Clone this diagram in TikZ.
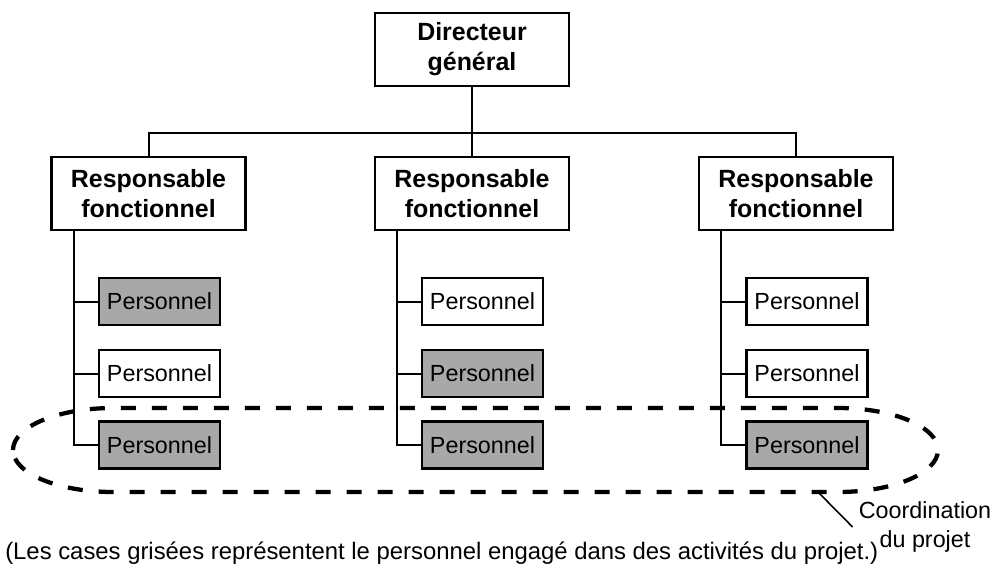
\documentclass[tikz,border=0pt]{standalone}
\usepackage{fontspec}
\setmainfont{Liberation Sans}
\definecolor{projgray}{RGB}{168,168,168}
\begin{document}
\begin{tikzpicture}[x=0.75pt,y=-0.75pt,
  chief/.style={draw, line width=1.8pt, fill=white, minimum width=145.5pt,
    minimum height=54.75pt, inner sep=0pt, align=center,
    font=\fontsize{18.7}{22.5}\selectfont\bfseries},
  staff/.style={draw, line width=1.8pt, fill=white, minimum width=90.75pt,
    minimum height=35.25pt, inner sep=0pt, font=\fontsize{17.5}{21}\selectfont},
  busy/.style={staff, fill=projgray},
  link/.style={line width=1.5pt},
  team/.style={line width=3.2pt, dash pattern=on 11.25pt off 12pt},
  note/.style={align=center, inner sep=0pt, font=\fontsize{17.5}{21.5}\selectfont}]

% canvas
\fill[white] (0,0) rectangle (996,569);
\useasboundingbox (0,0) rectangle (996,569);

% management
\node[chief] (dg)  at (472,49.5)  {Directeur\\général};
\node[chief] (rf1) at (148.5,193.5) {Responsable\\fonctionnel};
\node[chief] (rf2) at (472,193.5)   {Responsable\\fonctionnel};
\node[chief] (rf3) at (796,193.5)   {Responsable\\fonctionnel};
\coordinate (bus) at (472,133);

% staff, three per department (grey = engaged in the project)
\node[busy]  (p11) at (159.5,301.5) {Personnel};
\node[staff] (p12) at (159.5,373.5) {Personnel};
\node[busy]  (p13) at (159.5,445)   {Personnel};
\node[staff] (p21) at (482.5,301.5) {Personnel};
\node[busy]  (p22) at (482.5,373.5) {Personnel};
\node[busy]  (p23) at (482.5,445)   {Personnel};
\node[staff] (p31) at (807,301.5)   {Personnel};
\node[staff] (p32) at (807,373.5)   {Personnel};
\node[busy]  (p33) at (807,445)     {Personnel};

% hierarchy links
\draw[link] (dg.south) -- (rf2.north);
\draw[link] (rf1.north) |- (bus) -| (rf3.north);

\foreach \d in {1,2,3}{
  \draw[link] (p\d3.west) -- ++(-24,0) coordinate (k\d) -- (k\d |- rf\d.south);
  \draw[link] (p\d1.west) -- (p\d1.west -| k\d);
  \draw[link] (p\d2.west) -- (p\d2.west -| k\d);
}

% project coordination loop
\draw[team] (13,450) arc[start angle=180, end angle=90, x radius=75pt, y radius=31.5pt]
  -- (838,408) arc[start angle=90, end angle=-90, x radius=75pt, y radius=31.5pt]
  -- (113,492) arc[start angle=-90, end angle=-180, x radius=75pt, y radius=31.5pt];
\coordinate (tick) at (818,492);

\node[note] (coord) at (925,527) {Coordination\\du projet};
\draw[link, line width=1.2pt] (tick) -- ([xshift=-4.5pt, yshift=0pt]coord.west);

% legend
\node[note, anchor=base west, font=\fontsize{17.9}{21.5}\selectfont] (legend) at (5,559)
  {(Les cases grisées représentent le personnel engagé dans des activités du projet.)};
\end{tikzpicture}
\end{document}
